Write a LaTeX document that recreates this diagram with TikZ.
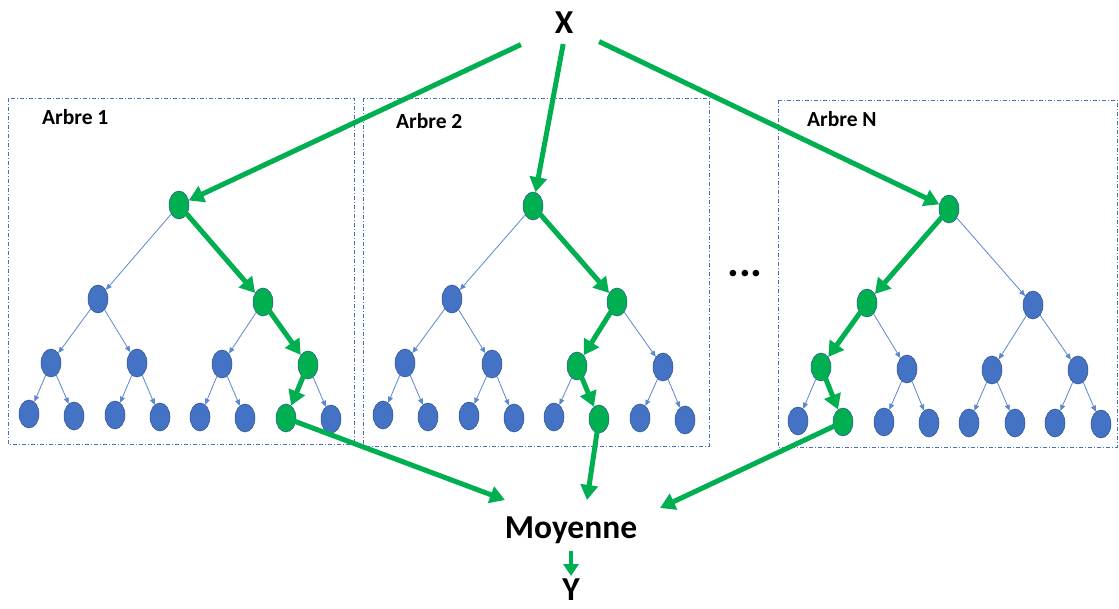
\documentclass[tikz,border=0pt]{standalone}
\usepackage{fontspec}
\setmainfont{Carlito}
\usetikzlibrary{shapes.geometric,arrows.meta}
\definecolor{nblue}{HTML}{4472C4}
\definecolor{nedge}{HTML}{2F528F}
\definecolor{ngreen}{HTML}{00B050}
\definecolor{eblue}{HTML}{5A87D0}
\tikzset{
  bn/.style={ellipse,draw=nedge,line width=0.5pt,fill=nblue,minimum width=20pt,minimum height=28pt,inner sep=0pt},
  gn/.style={bn,fill=ngreen},
  be/.style={draw=eblue,line width=0.8pt,-{Triangle[length=6pt,width=5pt]}},
  ge/.style={draw=ngreen,line width=5pt,-{Triangle[length=15pt,width=17pt]},shorten <=-1pt},
  treebox/.style={draw=nblue,line width=0.6pt,dash pattern=on 4pt off 2pt on 1pt off 2pt},
  lbl/.style={font=\bfseries\fontsize{21.5}{25}\selectfont,anchor=base west,inner sep=0pt},
  big/.style={font=\bfseries\fontsize{33.5}{38}\selectfont,anchor=base,inner sep=0pt}
}
\begin{document}
\begin{tikzpicture}[x=1pt,y=-1pt]
\useasboundingbox (0,0) rectangle (1119,608);
% boxes
\draw[treebox] (8,98) rectangle (354,444);
\draw[treebox] (363,98) rectangle (709,446);
\draw[treebox] (778,100) rectangle (1117,447);
% labels
\node[lbl] (la) at (42,124) {Arbre 1};
\node[lbl] (lb) at (396,128) {Arbre 2};
\node[lbl] (lc) at (807,126) {Arbre N};
\node[big] (X) at (564,33) {X};
\node[big] (moy) at (571,538) {Moyenne};
\node[big] (Y) at (571,600) {Y};
\node[font=\bfseries\fontsize{44}{48}\selectfont,anchor=base,inner sep=0pt] (dots) at (745,276) {...};
% tree 1
\node[gn] (a0) at (179,205) {};
\node[bn] (a1) at (98,299) {};
\node[gn] (a2) at (263,302) {};
\node[bn] (a3) at (51,363) {};
\node[bn] (a4) at (137,363) {};
\node[bn] (a5) at (222,364) {};
\node[gn] (a6) at (308,365) {};
\node[bn] (a7) at (29,414) {};
\node[bn] (a8) at (74,416) {};
\node[bn] (a9) at (115,415) {};
\node[bn] (a10) at (160,417) {};
\node[bn] (a11) at (200,417) {};
\node[bn] (a12) at (245,418) {};
\node[gn] (a13) at (286,418) {};
\node[bn] (a14) at (331,419) {};
% tree 2
\node[gn] (b0) at (533,206) {};
\node[bn] (b1) at (452,299) {};
\node[gn] (b2) at (617,302) {};
\node[bn] (b3) at (405,363) {};
\node[bn] (b4) at (492,364) {};
\node[gn] (b5) at (577,366) {};
\node[bn] (b6) at (663,367) {};
\node[bn] (b7) at (383,415) {};
\node[bn] (b8) at (428,417) {};
\node[bn] (b9) at (469,416) {};
\node[bn] (b10) at (514,418) {};
\node[bn] (b11) at (554,417) {};
\node[gn] (b12) at (599,419) {};
\node[bn] (b13) at (640,418) {};
\node[bn] (b14) at (685,420) {};
% tree N
\node[gn] (c0) at (949,209) {};
\node[gn] (c1) at (867,303) {};
\node[bn] (c2) at (1033,305) {};
\node[gn] (c3) at (821,367) {};
\node[bn] (c4) at (907,369) {};
\node[bn] (c5) at (992,370) {};
\node[bn] (c6) at (1078,370) {};
\node[bn] (c7) at (798,421) {};
\node[gn] (c8) at (843,422) {};
\node[bn] (c9) at (884,422) {};
\node[bn] (c10) at (929,423) {};
\node[bn] (c11) at (969,423) {};
\node[bn] (c12) at (1015,423) {};
\node[bn] (c13) at (1055,423) {};
\node[bn] (c14) at (1101,424) {};
% blue edges
\foreach \p/\c in {a0/a1,a1/a3,a1/a4,a2/a5,a6/a14,a3/a7,a3/a8,a4/a9,a4/a10,a5/a11,a5/a12,
                   b0/b1,b1/b3,b1/b4,b2/b6,b3/b7,b3/b8,b4/b9,b4/b10,b5/b11,b6/b13,b6/b14,
                   c0/c2,c1/c4,c2/c5,c2/c6,c3/c7,c4/c9,c4/c10,c5/c11,c5/c12,c6/c13,c6/c14}
  \draw[be] (\p) -- (\c);
% green edges in trees
\foreach \p/\c in {a0/a2,a2/a6,a6/a13,b0/b2,b2/b5,b5/b12,c0/c1,c1/c3,c3/c8}
  \draw[ge] (\p) -- (\c);
% input arrows
\coordinate (xs1) at (520,45);
\coordinate (xs2) at (563,45);
\coordinate (xs3) at (600,42);
\draw[ge] (xs1) -- (a0);
\draw[ge] (xs2) -- (b0);
\draw[ge] (xs3) -- (c0);
% output arrows
\coordinate (m1) at (505,500);
\coordinate (m2) at (587,500);
\coordinate (m3) at (660,508);
\draw[ge] (a13) -- (m1);
\draw[ge] (b12) -- (m2);
\draw[ge] (c8) -- (m3);
\coordinate (ys) at (571,551);
\coordinate (ye) at (571,576);
\draw[draw=ngreen,line width=3.5pt,-{Triangle[length=12pt,width=15pt]}] (ys) -- (ye);
\end{tikzpicture}
\end{document}
